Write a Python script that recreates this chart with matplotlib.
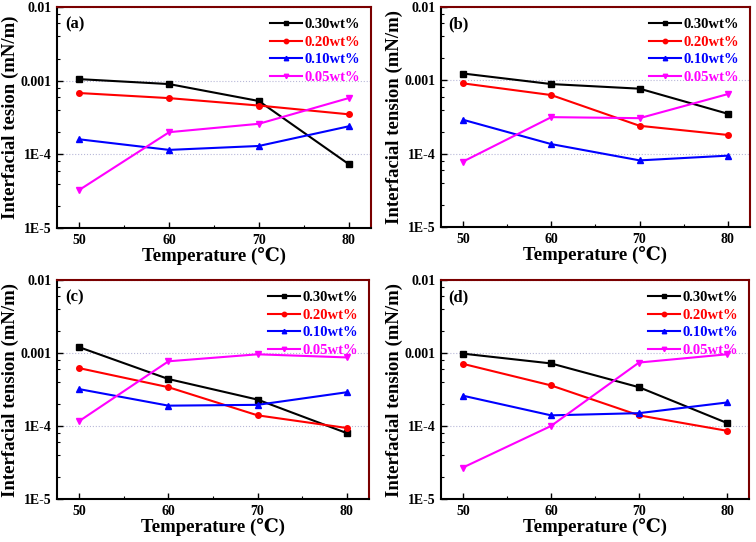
import numpy as np
import matplotlib
matplotlib.use('Agg')
import matplotlib.pyplot as plt
from matplotlib.ticker import LogLocator, NullFormatter, MultipleLocator

plt.rcParams['font.family'] = ['Liberation Serif', 'DejaVu Serif']
plt.rcParams['font.weight'] = 'bold'

temps = [50, 60, 70, 80]
labels = ['0.30wt%', '0.20wt%', '0.10wt%', '0.05wt%']
colors = ['black', 'red', 'blue', 'magenta']
markers = ['s', 'o', '^', 'v']

# interfacial tension (mN/m) per panel, rows in the order of labels
ift_a = [[1.05e-3, 9.0e-4, 5.3e-4, 7.4e-5],
         [6.8e-4, 5.8e-4, 4.6e-4, 3.5e-4],
         [1.6e-4, 1.15e-4, 1.3e-4, 2.4e-4],
         [3.3e-5, 2.0e-4, 2.6e-4, 5.8e-4]]
ift_b = [[1.24e-3, 8.9e-4, 7.7e-4, 3.5e-4],
         [9.1e-4, 6.3e-4, 2.4e-4, 1.8e-4],
         [2.9e-4, 1.35e-4, 8.1e-5, 9.4e-5],
         [7.8e-5, 3.15e-4, 3.05e-4, 6.5e-4]]
ift_c = [[1.2e-3, 4.4e-4, 2.3e-4, 8.0e-5],
         [6.2e-4, 3.4e-4, 1.4e-4, 9.4e-5],
         [3.2e-4, 1.9e-4, 1.95e-4, 2.9e-4],
         [1.17e-4, 7.7e-4, 9.6e-4, 8.7e-4]]
ift_d = [[9.8e-4, 7.2e-4, 3.4e-4, 1.1e-4],
         [7.1e-4, 3.6e-4, 1.4e-4, 8.6e-5],
         [2.6e-4, 1.4e-4, 1.5e-4, 2.1e-4],
         [2.7e-5, 1.0e-4, 7.4e-4, 9.6e-4]]

panels = [('(a)', ift_a, 'Interfacial tesion (mN/m)', [0.0754, 0.5793, 0.4153, 0.4077]),
          ('(b)', ift_b, 'Interfacial tension (mN/m)', [0.5833, 0.5812, 0.4087, 0.4058]),
          ('(c)', ift_c, 'Interfacial tension (mN/m)', [0.0754, 0.0793, 0.4127, 0.4041]),
          ('(d)', ift_d, 'Interfacial tension (mN/m)', [0.5833, 0.0793, 0.4074, 0.4041])]

yticks = [1e-5, 1e-4, 1e-3, 1e-2]
yticklabels = ['1E-5', '1E-4', '0.001', '0.01']
dark_red = '#7a0000'

fig = plt.figure(figsize=(7.56, 5.42), dpi=100)

for tag, data, ylab, pos in panels:
    ax = fig.add_axes(pos)
    for vals, lab, c, m in zip(data, labels, colors, markers):
        ax.plot(temps, vals, color=c, marker=m, markersize=4, lw=1.5, label=lab)
    ax.set_yscale('log')
    ax.set_ylim(1e-5, 1e-2)
    ax.set_xlim(47.5, 82.5)
    ax.set_yticks(yticks)
    ax.set_yticklabels(yticklabels)
    ax.yaxis.set_minor_locator(LogLocator(base=10, subs=(2, 4, 6, 8)))
    ax.yaxis.set_minor_formatter(NullFormatter())
    ax.set_xticks(temps)
    ax.xaxis.set_minor_locator(MultipleLocator(5))
    ax.tick_params(which='major', direction='in', length=4, width=1, labelsize=10, pad=4)
    ax.tick_params(which='minor', direction='in', length=2, width=0.8)
    ax.tick_params(top=False, right=False, which='both')
    ax.yaxis.grid(True, which='major', linestyle=':', color='#b8b8d8', lw=0.8)
    for sp in ['left', 'bottom']:
        ax.spines[sp].set_linewidth(1.5)
    for sp in ['top', 'right']:
        ax.spines[sp].set_color(dark_red)
        ax.spines[sp].set_linewidth(1.5)
    ax.set_xlabel('Temperature (\u2103)', fontsize=13.5, fontweight='bold', labelpad=0)
    ax.set_ylabel(ylab, fontsize=13.5, fontweight='bold', labelpad=1)
    ax.text(0.025, 0.92, tag, transform=ax.transAxes, fontsize=12,
            fontweight='bold', va='center', ha='left')
    leg = ax.legend(loc='upper right', frameon=False, fontsize=10.5,
                    handlelength=2.2, handletextpad=0.15, labelspacing=0.3,
                    borderaxespad=0.35, markerscale=0.8)
    for txt, c in zip(leg.get_texts(), colors):
        txt.set_color(c)

fig.savefig('out.png', dpi=100)
